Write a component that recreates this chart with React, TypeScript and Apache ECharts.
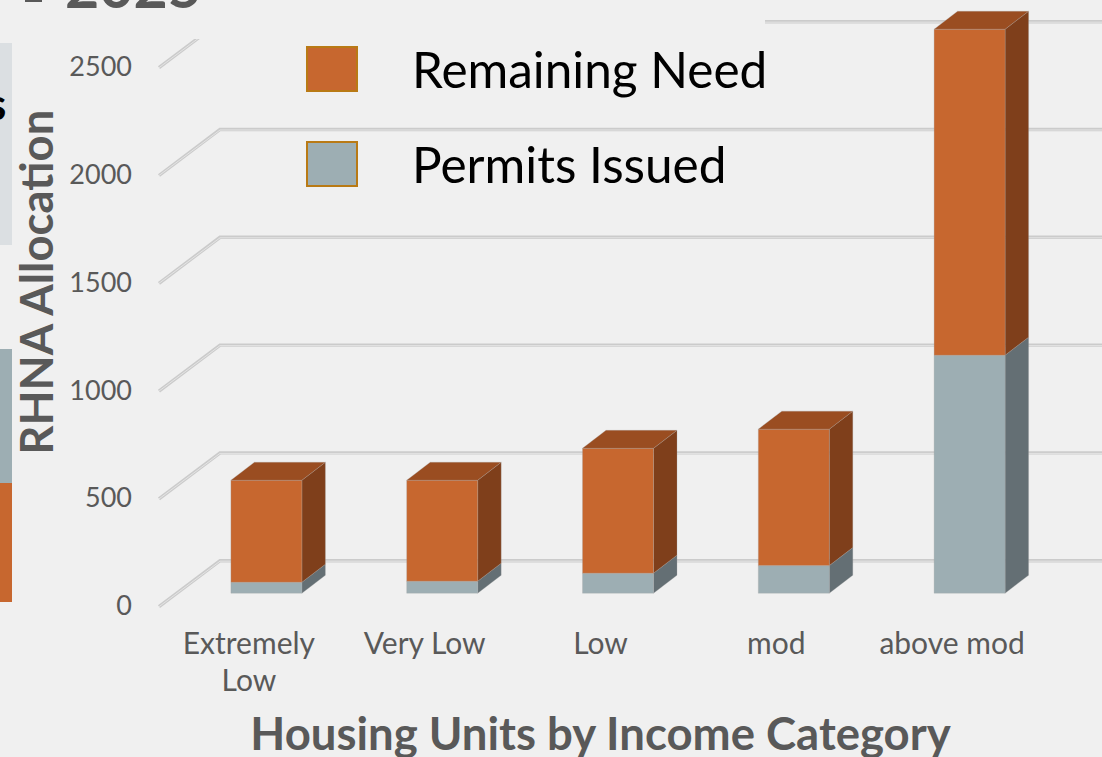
import React, { useEffect, useRef } from "react";
import * as echarts from "echarts";

const categories = ["Extremely\nLow", "Very Low", "Low", "mod", "above mod"];
const permitsIssued = [51, 56, 93, 128, 1104];
const remainingNeed = [473, 468, 579, 633, 1512];
const yTicks = [0, 500, 1000, 1500, 2000, 2500];

const BG = "#f0f0f0";
const INK = "#595959";
const FONT = "Lato";
const ORANGE = { front: "#c7672f", top: "#9a4d21", side: "#7f3f1b" };
const SLATE = { front: "#9daeb3", top: "#7f8d91", side: "#646f74" };

const DEPTH_X = 23.5;
const DEPTH_Y = 18;
const BAR_SHIFT_X = 17.5;
const BAR_SHIFT_Y = 13.5;
const BAR_WIDTH = 71;

function barRenderer(palette: typeof ORANGE, withTop: boolean) {
  return (_params: any, api: any) => {
    const idx = api.value(0);
    const base = api.coord([idx, api.value(1)]);
    const top = api.coord([idx, api.value(1) + api.value(2)]);
    const l = base[0] + BAR_SHIFT_X - BAR_WIDTH / 2;
    const r = l + BAR_WIDTH;
    const yb = base[1] - BAR_SHIFT_Y;
    const yt = top[1] - BAR_SHIFT_Y;
    const edge = { stroke: "rgba(165,165,165,0.35)", lineWidth: 0.8 };
    const children: any[] = [
      {
        type: "polygon",
        shape: {
          points: [
            [r, yb],
            [r + DEPTH_X, yb - DEPTH_Y],
            [r + DEPTH_X, yt - DEPTH_Y],
            [r, yt],
          ],
        },
        style: { fill: palette.side, ...edge },
      },
      {
        type: "polygon",
        shape: {
          points: [
            [l, yb],
            [r, yb],
            [r, yt],
            [l, yt],
          ],
        },
        style: { fill: palette.front, ...edge },
      },
    ];
    if (withTop) {
      children.push({
        type: "polygon",
        shape: {
          points: [
            [l, yt],
            [r, yt],
            [r + DEPTH_X, yt - DEPTH_Y],
            [l + DEPTH_X, yt - DEPTH_Y],
          ],
        },
        style: { fill: palette.top, ...edge },
      });
    }
    return { type: "group", children };
  };
}

function gridRenderer(params: any, api: any) {
  const y = api.coord([0, api.value(1)])[1];
  const cs = params.coordSys;
  const x0 = cs.x - 2;
  const x1 = cs.x + 59;
  const yb = y - 46.5;
  const end = api.getWidth();
  return {
    type: "group",
    children: [
      {
        type: "polyline",
        shape: { points: [[x0, y], [x1, yb + 0.5], [end, yb + 0.5]] },
        style: { fill: "none", stroke: "#cbcbcb", lineWidth: 3.4 },
      },
      {
        type: "polyline",
        shape: { points: [[x0, y], [x1, yb + 1], [end, yb + 1]] },
        style: { fill: "none", stroke: "#e4e4e4", lineWidth: 1 },
      },
    ],
  };
}

export default function App() {
  const ref = useRef<HTMLDivElement>(null);
  useEffect(() => {
    document.body.style.margin = "0";
    document.body.style.background = BG;
    const chart = echarts.init(ref.current!, undefined, { renderer: "svg" });
    chart.setOption({
      animation: false,
      backgroundColor: BG,
      grid: { left: 161, right: 62, top: 67.7, bottom: 150.3, outerBoundsMode: "none" },
      legend: {
        orient: "vertical",
        left: 306,
        top: 44,
        padding: 0,
        itemWidth: 50,
        itemHeight: 44,
        itemGap: 45,
        icon: "rect",
        itemStyle: { borderColor: "#b97a15", borderWidth: 2 },
        textStyle: {
          color: "#000",
          fontFamily: FONT,
          fontSize: 49.5,
          lineHeight: 44,
          padding: [0, 0, 0, 50],
        },
        data: ["Remaining Need", "Permits Issued"],
        z: 10,
      },
      xAxis: {
        type: "category",
        data: categories,
        axisLine: { show: false },
        axisTick: { show: false },
        axisLabel: {
          color: INK,
          fontFamily: FONT,
          fontSize: 30,
          lineHeight: 37,
          margin: 17,
          interval: 0,
        },
        name: "Housing Units by Income Category",
        nameLocation: "middle",
        nameGap: 103,
        nameTextStyle: { color: INK, fontFamily: FONT, fontWeight: "bold", fontSize: 45.5 },
      },
      yAxis: {
        type: "value",
        min: 0,
        max: 2500,
        interval: 500,
        splitLine: { show: false },
        axisLine: { show: false },
        axisTick: { show: false },
        axisLabel: {
          color: INK,
          fontFamily: FONT,
          fontSize: 27,
          margin: 29,
          verticalAlign: "bottom",
          lineHeight: 4,
          formatter: (v: number) => String(v),
        },
        name: "RHNA Allocation",
        nameLocation: "middle",
        nameGap: 102,
        nameRotate: 90,
        nameTextStyle: {
          color: INK,
          fontFamily: FONT,
          fontWeight: "bold",
          fontSize: 45.5,
          padding: [0, 0, 0, 110],
        },
      },
      graphic: [
        { type: "rect", z: 1, shape: { x: 190, y: 0, width: 575, height: 39 }, style: { fill: BG } },
        { type: "rect", z: 1, shape: { x: 0, y: 43, width: 12, height: 202 }, style: { fill: "#dbdfe2" } },
        { type: "rect", z: 1, shape: { x: 0, y: 349, width: 12, height: 134 }, style: { fill: SLATE.front } },
        { type: "rect", z: 1, shape: { x: 0, y: 483, width: 12, height: 119 }, style: { fill: ORANGE.front } },
        { type: "rect", z: 1, shape: { x: 25, y: 0, width: 17, height: 2 }, style: { fill: INK } },
        {
          type: "text",
          z: 5,
          x: -13,
          y: 103,
          style: { text: "s", fill: "#000", font: `bold 44px ${FONT}`, verticalAlign: "middle" },
        },
        {
          type: "text",
          z: 5,
          x: 65,
          y: 15,
          style: { text: "2025", fill: INK, font: `bold 59px ${FONT}`, verticalAlign: "bottom" },
        },
      ],
      series: [
        {
          name: "Gridlines",
          type: "custom",
          z: 0,
          silent: true,
          data: yTicks.map((v) => [0, v]),
          encode: { x: 0, y: 1 },
          renderItem: gridRenderer,
        },
        {
          name: "Permits Issued",
          type: "custom",
          z: 3,
          silent: true,
          itemStyle: { color: SLATE.front },
          data: permitsIssued.map((v, i) => [i, 0, v]),
          encode: { x: 0, y: [1, 2] },
          renderItem: barRenderer(SLATE, false),
        },
        {
          name: "Remaining Need",
          type: "custom",
          z: 3,
          silent: true,
          itemStyle: { color: ORANGE.front },
          data: remainingNeed.map((v, i) => [i, permitsIssued[i], v]),
          encode: { x: 0, y: [1, 2] },
          renderItem: barRenderer(ORANGE, true),
        },
      ],
    });
    return () => chart.dispose();
  }, []);
  return <div ref={ref} style={{ position: "absolute", left: 0, top: 0, width: 1102, height: 757 }} />;
}
